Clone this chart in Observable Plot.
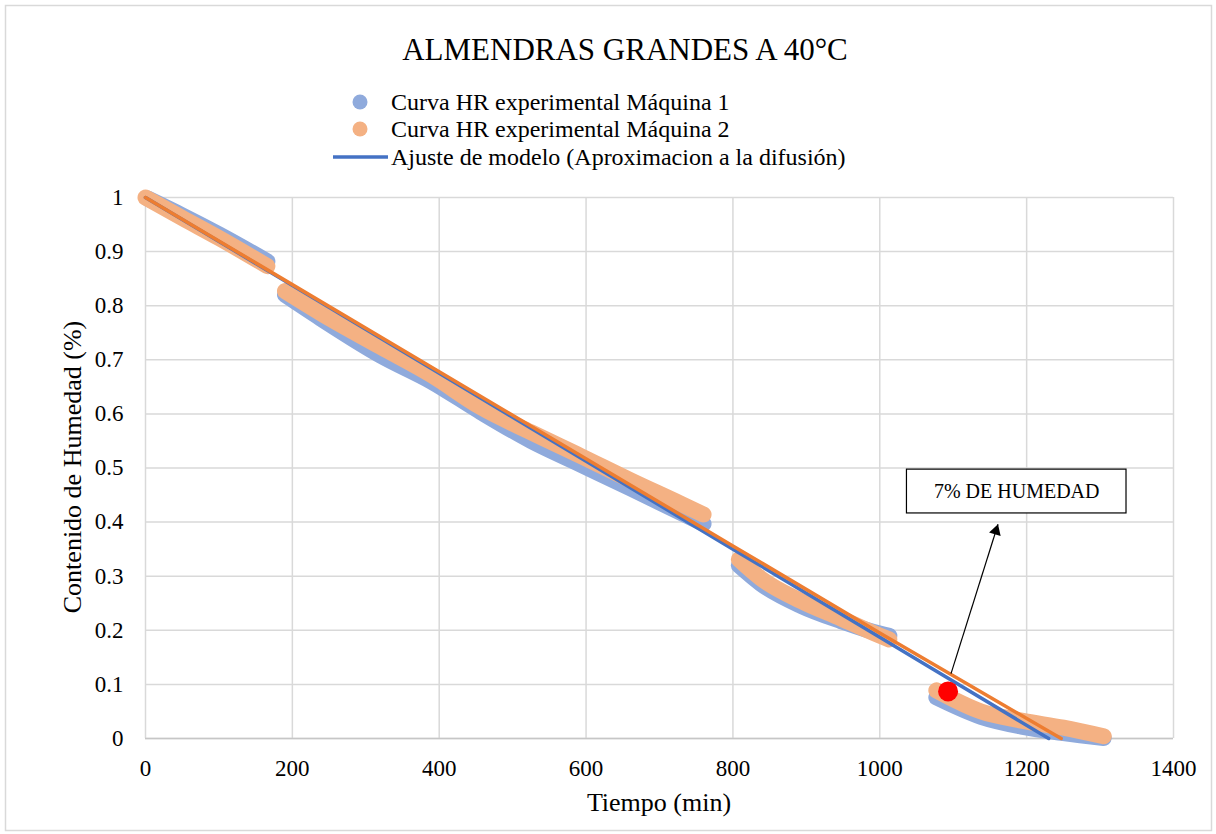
<!DOCTYPE html>
<html>
<head>
<meta charset="utf-8">
<script src="https://cdn.jsdelivr.net/npm/d3@7"></script>
<script src="https://cdn.jsdelivr.net/npm/@observablehq/plot@0.6"></script>
<style>
  html, body { margin: 0; padding: 0; background: #fff; }
  #chart { position: relative; width: 1216px; height: 834px; }
  svg { font-family: "Liberation Serif", "Times New Roman", serif; }
</style>
</head>
<body>
<div id="chart"></div>
<script>
// ---- Data ----
const titleText = "ALMENDRAS GRANDES A 40°C";
const xLabel = "Tiempo (min)";
const yLabel = "Contenido de Humedad (%)";
const seriesNames = ["Curva HR experimental Máquina 1", "Curva HR experimental Máquina 2", "Ajuste de modelo (Aproximacion a la difusión)"];

const xTicks = [0, 200, 400, 600, 800, 1000, 1200, 1400];
const yTicks = [0, 0.1, 0.2, 0.3, 0.4, 0.5, 0.6, 0.7, 0.8, 0.9, 1];

// Máquina 1 (experimental), by drying stage
const m1Seg = [1, 1, 1, 1, 2, 2, 2, 2, 2, 2, 2, 2, 2, 2, 3, 3, 3, 3, 3, 3, 4, 4, 4, 4, 4];
const m1Time = [3, 50, 100, 166, 190, 239, 320, 389, 457, 525, 593, 661, 729, 760, 808, 838, 893, 947, 1000, 1013, 1077, 1138, 1193, 1250, 1305];
const m1Hum = [0.998, 0.967, 0.932, 0.882, 0.82, 0.776, 0.708, 0.66, 0.603, 0.55, 0.506, 0.462, 0.417, 0.397, 0.32, 0.286, 0.245, 0.217, 0.194, 0.19, 0.076, 0.04, 0.022, 0.01, 0.001];

// Máquina 2 (experimental)
const m2Seg = [1, 1, 1, 1, 2, 2, 2, 2, 2, 2, 2, 2, 2, 2, 3, 3, 3, 3, 3, 3, 4, 4, 4, 4, 4];
const m2Time = [0, 50, 100, 166, 190, 239, 320, 389, 457, 525, 593, 661, 729, 760, 808, 838, 893, 947, 1000, 1013, 1077, 1138, 1193, 1250, 1305];
const m2Hum = [1.0, 0.962, 0.925, 0.873, 0.827, 0.786, 0.724, 0.672, 0.612, 0.566, 0.522, 0.477, 0.434, 0.414, 0.331, 0.296, 0.254, 0.222, 0.19, 0.183, 0.089, 0.05, 0.033, 0.02, 0.004];

// Model fits
const fit1Time = [0, 400, 800, 1000, 1230];
const fit1Hum = [1, 0.675, 0.35, 0.187, 0];
const fit2Time = [0, 400, 800, 1000, 1100, 1247];
const fit2Hum = [1, 0.678, 0.356, 0.195, 0.116, 0];

// 7 % moisture point and its callout
const pointTime = [1093];
const pointHum = [0.087];
const calloutText = "7% DE HUMEDAD";
const calloutBoxTime = [1037, 1336];
const calloutBoxHum = [0.416, 0.497];
const arrowFrom = [1097, 0.12];
const arrowTo = [1161, 0.396];

// ---- Build tables ----
const m1 = m1Time.map((t, i) => ({t, v: m1Hum[i], seg: m1Seg[i]}));
const m2 = m2Time.map((t, i) => ({t, v: m2Hum[i], seg: m2Seg[i]}));
const fit1 = fit1Time.map((t, i) => ({t, v: fit1Hum[i]}));
const fit2 = fit2Time.map((t, i) => ({t, v: fit2Hum[i]}));
const point = pointTime.map((t, i) => ({t, v: pointHum[i]}));
const box = [{x1: calloutBoxTime[0], x2: calloutBoxTime[1], y1: calloutBoxHum[0], y2: calloutBoxHum[1], label: calloutText}];
const arrow = [{x1: arrowFrom[0], y1: arrowFrom[1], x2: arrowTo[0], y2: arrowTo[1]}];

const C1 = "#8faadc", C2 = "#f4b183", F1 = "#4472c4", F2 = "#ed7d31";
const fmtY = d => String(+d.toFixed(1));

const plot = Plot.plot({
  width: 1216,
  height: 834,
  marginLeft: 145,
  marginRight: 43,
  marginTop: 197,
  marginBottom: 96,
  style: {fontFamily: '"Liberation Serif", "Times New Roman", serif', fontSize: "23px", color: "#000", background: "#fff"},
  x: {domain: [0, 1400], label: null},
  y: {domain: [0, 1], label: null},
  marks: [
    Plot.gridX(xTicks, {stroke: "#d9d9d9", strokeOpacity: 1, strokeWidth: 1.5}),
    Plot.gridY(yTicks, {stroke: "#d9d9d9", strokeOpacity: 1, strokeWidth: 1.5}),
    Plot.ruleY([0], {stroke: "#c6c6c6", strokeWidth: 1.5}),
    Plot.axisX(xTicks, {tickSize: 0, tickPadding: 21, fontSize: 23, tickFormat: d => String(d)}),
    Plot.axisY(yTicks, {tickSize: 0, tickPadding: 22, fontSize: 23, tickFormat: fmtY}),
    Plot.line(m1, {x: "t", y: "v", z: "seg", stroke: C1, strokeWidth: 16, strokeLinecap: "round", strokeLinejoin: "round", curve: "monotone-x"}),
    Plot.line(m2, {x: "t", y: "v", z: "seg", stroke: C2, strokeWidth: 16, strokeLinecap: "round", strokeLinejoin: "round", curve: "monotone-x"}),
    Plot.line(fit1, {x: "t", y: "v", stroke: F1, strokeWidth: 3.5}),
    Plot.line(fit2, {x: "t", y: "v", stroke: F2, strokeWidth: 3.5}),
    Plot.dot(point, {x: "t", y: "v", r: 10, fill: "#ff0000", stroke: "none"}),
    Plot.link(arrow, {x1: "x1", y1: "y1", x2: "x2", y2: "y2", stroke: "#000", strokeWidth: 1.2}),
    Plot.dot(arrow, {x: "x2", y: "y2", symbol: "triangle", r: 4.5, fill: "#000", stroke: "none", rotate: 17.5, dx: -2.1, dy: 6.7}),
    Plot.rect(box, {x1: "x1", x2: "x2", y1: "y1", y2: "y2", fill: "#fff", stroke: "#000", strokeWidth: 1.2}),
    Plot.text(box, {x: d => (d.x1 + d.x2) / 2, y: d => (d.y1 + d.y2) / 2, text: "label", fontSize: 20, fill: "#000"})
  ]
});

document.getElementById("chart").appendChild(plot);

// Title, legend, axis titles and outer border
const svg = d3.select(plot);
svg.append("rect").attr("x", 5.5).attr("y", 5.5).attr("width", 1206).attr("height", 825)
  .attr("fill", "none").attr("stroke", "#d9d9d9").attr("stroke-width", 1.5);

svg.append("text").attr("x", 625).attr("y", 60).attr("text-anchor", "middle")
  .attr("font-size", 31).attr("fill", "#000").text(titleText);

const leg = svg.append("g").attr("font-size", 24).attr("fill", "#000").attr("text-anchor", "start");
const rowsY = [102, 129, 157];
leg.append("circle").attr("cx", 360).attr("cy", rowsY[0]).attr("r", 7.5).attr("fill", C1);
leg.append("circle").attr("cx", 360).attr("cy", rowsY[1]).attr("r", 7.5).attr("fill", C2);
leg.append("line").attr("x1", 333).attr("x2", 388).attr("y1", rowsY[2]).attr("y2", rowsY[2])
  .attr("stroke", F1).attr("stroke-width", 3.5);
seriesNames.forEach((s, i) => {
  leg.append("text").attr("x", 391).attr("y", rowsY[i] + 7.9).attr("text-anchor", "start").text(s);
});

svg.append("text").attr("x", 659).attr("y", 811).attr("text-anchor", "middle")
  .attr("font-size", 26).attr("fill", "#000").text(xLabel);
svg.append("text").attr("transform", "translate(81,467) rotate(-90)").attr("text-anchor", "middle")
  .attr("font-size", 26).attr("fill", "#000").text(yLabel);
</script>
</body>
</html>
